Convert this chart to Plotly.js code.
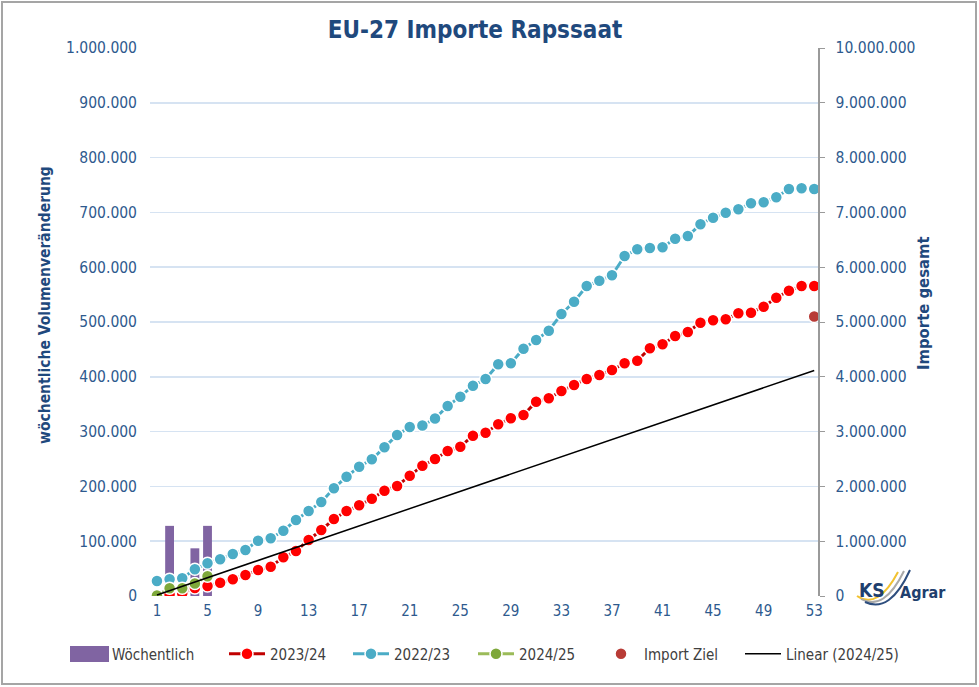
<!DOCTYPE html>
<html>
<head>
<meta charset="utf-8">
<script src="https://cdn.plot.ly/plotly-3.0.1.min.js"></script>
<style>
html,body{margin:0;padding:0;background:#fff;}
#chart{width:979px;height:687px;}
#frame{position:absolute;left:1px;top:1px;width:972px;height:680px;border:2px solid #A5A5A5;pointer-events:none;}
</style>
</head>
<body>
<div id="chart"></div>
<div id="frame"></div>
<script>
// ---- data ----
const weeks = Array.from({length: 53}, (_, i) => i + 1);
const xTicks = [1, 5, 9, 13, 17, 21, 25, 29, 33, 37, 41, 45, 49, 53];

const weeksCurrent = [1, 2, 3, 4, 5];
const weekly2425 = [10000, 128000, 2000, 87000, 128000];
const cum2425 = [10000, 140000, 142000, 228000, 360000];

const cum2324 = [15000, 31000, 49000, 146000, 182000, 243000, 305000, 383000, 474000, 535000,
  706000, 821000, 1022000, 1204000, 1405000, 1551000, 1655000, 1776000, 1922000, 2007000,
  2195000, 2378000, 2500000, 2646000, 2724000, 2925000, 2980000, 3135000, 3243000, 3303000,
  3546000, 3608000, 3741000, 3850000, 3960000, 4033000, 4124000, 4246000, 4294000, 4520000,
  4593000, 4744000, 4817000, 4987000, 5031000, 5049000, 5159000, 5170000, 5279000, 5443000,
  5571000, 5657000, 5657000];

const cum2223 = [274000, 305000, 323000, 487000, 597000, 670000, 766000, 839000, 1009000, 1053000,
  1192000, 1387000, 1551000, 1715000, 1965000, 2177000, 2360000, 2494000, 2713000, 2938000,
  3084000, 3111000, 3239000, 3467000, 3637000, 3838000, 3960000, 4228000, 4246000, 4513000,
  4671000, 4841000, 5146000, 5370000, 5657000, 5754000, 5852000, 6204000, 6327000, 6350000,
  6363000, 6520000, 6569000, 6783000, 6903000, 6994000, 7057000, 7166000, 7184000, 7276000,
  7427000, 7440000, 7427000];

const zielWeek = [53];
const zielValue = [5100000];

// linear trend of 2024/25 (least squares over its weeks), drawn across the season
function linFit(xs, ys) {
  const n = xs.length;
  const mx = xs.reduce((a, b) => a + b, 0) / n;
  const my = ys.reduce((a, b) => a + b, 0) / n;
  let sxy = 0, sxx = 0;
  for (let i = 0; i < n; i++) { sxy += (xs[i] - mx) * (ys[i] - my); sxx += (xs[i] - mx) ** 2; }
  const b = sxy / sxx;
  return x => my + b * (x - mx);
}
const trend = linFit(weeksCurrent, cum2425);
const trendX = [weeks[0], weeks[weeks.length - 1]];
const trendY = trendX.map(trend);

// ---- style ----
const FONT = '"DejaVu Sans Condensed", "Liberation Sans Narrow", sans-serif';
const BLUE_TXT = '#2E5A8E';
const DARK_TXT = '#1F497D';

const L = 150, R = 818, T = 48, B = 596;
const px = x => (x - L) / (R - L);
const py = y => (B - y) / (B - T);

const mk = (c) => ({symbol: 'circle', size: 12, color: c, line: {color: '#FFFFFF', width: 1.5}});

const traces = [
  {type: 'bar', name: 'Wöchentlich', x: weeksCurrent, y: weekly2425, yaxis: 'y', legend: 'legend',
   marker: {color: '#8064A2'}, width: 0.7},
  {type: 'scatter', mode: 'lines+markers', name: '2023/24', x: weeks, y: cum2324, yaxis: 'y2', legend: 'legend2',
   line: {color: '#C00000', width: 3}, marker: mk('#FF0000')},
  {type: 'scatter', mode: 'lines+markers', name: '2022/23', x: weeks, y: cum2223, yaxis: 'y2', legend: 'legend3',
   line: {color: '#4BACC6', width: 3}, marker: mk('#4BACC6')},
  {type: 'scatter', mode: 'lines+markers', name: '2024/25', x: weeksCurrent, y: cum2425, yaxis: 'y2', legend: 'legend4',
   line: {color: '#9BBB59', width: 3}, marker: mk('#7EA83A')},
  {type: 'scatter', mode: 'markers', name: 'Import Ziel', x: zielWeek, y: zielValue, yaxis: 'y2', legend: 'legend5',
   marker: {symbol: 'circle', size: 12, color: '#B83B36', line: {color: '#FFFFFF', width: 1.5}}},
  {type: 'scatter', mode: 'lines', name: 'Linear (2024/25)', x: trendX, y: trendY, yaxis: 'y2', legend: 'legend6',
   line: {color: '#000000', width: 1.5}}
];

const legendBase = (xPix) => ({
  orientation: 'h', xref: 'paper', x: px(xPix), xanchor: 'left', yref: 'paper', y: py(654), yanchor: 'middle',
  font: {family: FONT, size: 15, color: '#404040'}, itemwidth: 36, bgcolor: 'rgba(0,0,0,0)'
});

const layout = {
  width: 979, height: 687,
  margin: {l: L, r: 979 - R, t: T, b: 687 - B, pad: 0},
  paper_bgcolor: '#FFFFFF', plot_bgcolor: '#FFFFFF',
  separators: ',.',
  showlegend: true,
  font: {family: FONT, color: BLUE_TXT, size: 15},
  title: {text: 'EU-27 Importe Rapssaat', font: {family: FONT, size: 24, color: DARK_TXT, weight: 'bold'},
          xref: 'paper', x: px(475), xanchor: 'center', yref: 'container', y: 1 - 30 / 687, yanchor: 'middle'},
  xaxis: {range: [0.45, 53.3], tickmode: 'array', tickvals: xTicks, ticktext: xTicks.map(String),
          showgrid: false, zeroline: false, showline: false, ticks: '',
          tickfont: {family: FONT, size: 15, color: BLUE_TXT}, ticklabelstandoff: 4},
  yaxis: {range: [0, 1000000], dtick: 100000, tickformat: ',d', showgrid: true, gridcolor: '#D6E3F2', gridwidth: 1.5,
          zeroline: false, showline: false, ticks: '', ticklabelstandoff: 12,
          tickfont: {family: FONT, size: 15.5, color: BLUE_TXT}},
  yaxis2: {overlaying: 'y', side: 'right', range: [0, 10000000], dtick: 1000000, tickformat: ',d',
           showgrid: false, zeroline: false, showline: true, linecolor: '#9A9A9A', linewidth: 1.5,
           ticks: 'outside', ticklen: 5, tickcolor: '#9A9A9A', ticklabelstandoff: 8,
           tickfont: {family: FONT, size: 15.5, color: BLUE_TXT}},
  bargap: 0.3,
  legend: legendBase(66),
  legend2: legendBase(224),
  legend3: legendBase(348),
  legend4: legendBase(473),
  legend5: legendBase(598),
  legend6: legendBase(740),
  annotations: [
    {text: '<b>wöchentliche Volumenveränderung</b>', xref: 'paper', yref: 'paper', x: px(45), y: py(305),
     textangle: -90, showarrow: false, font: {family: FONT, size: 15.5, color: DARK_TXT}, xanchor: 'center', yanchor: 'middle'},
    {text: '<b>Importe gesamt</b>', xref: 'paper', yref: 'paper', x: px(923), y: py(303),
     textangle: -90, showarrow: false, font: {family: FONT, size: 16.5, color: DARK_TXT}, xanchor: 'center', yanchor: 'middle'},
    {text: '<b>KS</b>', xref: 'paper', yref: 'paper', x: px(872), y: py(590), showarrow: false,
     font: {family: FONT, size: 19, color: '#1F3F6E'}, xanchor: 'center', yanchor: 'middle'},
    {text: '<b>Agrar</b>', xref: 'paper', yref: 'paper', x: px(923), y: py(592), showarrow: false,
     font: {family: FONT, size: 16, color: '#1F3F6E'}, xanchor: 'center', yanchor: 'middle'}
  ],
  shapes: [
    // wide legend swatch for the weekly bars
    {type: 'rect', xref: 'paper', yref: 'paper', x0: px(70), x1: px(109), y0: py(646), y1: py(662),
     fillcolor: '#8064A2', line: {width: 0}},
    // logo swooshes
    {type: 'path', xref: 'paper', yref: 'paper', line: {color: '#F2C230', width: 2},
     path: `M ${px(857)},${py(596)} Q ${px(878)},${py(610)} ${px(898)},${py(572)}`},
    {type: 'path', xref: 'paper', yref: 'paper', line: {color: '#A9A9A9', width: 2},
     path: `M ${px(861)},${py(599)} Q ${px(884)},${py(612)} ${px(904)},${py(571)}`},
    {type: 'path', xref: 'paper', yref: 'paper', line: {color: '#2E4E7E', width: 2},
     path: `M ${px(865)},${py(602)} Q ${px(890)},${py(614)} ${px(910)},${py(570)}`}
  ]
};

Plotly.newPlot('chart', traces, layout, {displayModeBar: false, staticPlot: true});
</script>
</body>
</html>
